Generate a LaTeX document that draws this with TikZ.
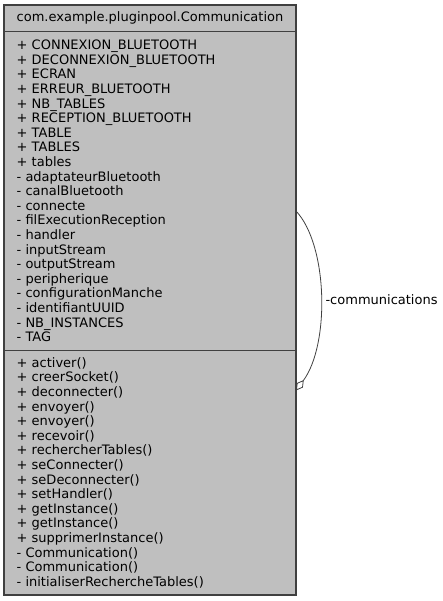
\documentclass[tikz,border=0pt]{standalone}
\usepackage{fontspec}
\setmainfont{DejaVu Sans}
\usetikzlibrary{arrows.meta,positioning}

\begin{document}
\begin{tikzpicture}[x=1pt,y=-1pt,
    classpart/.style={draw=umlborder,fill=umlfill,line width=1.2pt,outer sep=0pt,
      minimum width=292pt,text width=267pt,inner xsep=12.5pt,inner ysep=0pt,
      font=\fontsize{13}{14.6}\selectfont},
    aggreg/.style={draw=umlborder,line width=0.8pt,-{Diamond[open,length=13pt,width=7.5pt]}}]
  \definecolor{umlfill}{HTML}{BFBFBF}
  \definecolor{umlborder}{HTML}{404040}
  \useasboundingbox (0,0) rectangle (443,601);
  \node (title) [classpart,align=center,minimum height=26.5pt,anchor=north west] at (4,5)
    {com.example.pluginpool.Communication};
  \node (attrs) [classpart,align=left,minimum height=319pt,below=0pt of title]
    {+ CONNEXION\_BLUETOOTH\\+ DECONNEXION\_BLUETOOTH\\+ ECRAN\\+ ERREUR\_BLUETOOTH\\
     + NB\_TABLES\\+ RECEPTION\_BLUETOOTH\\+ TABLE\\+ TABLES\\+ tables\\
     - adaptateurBluetooth\\- canalBluetooth\\- connecte\\- filExecutionReception\\
     - handler\\- inputStream\\- outputStream\\- peripherique\\- configurationManche\\
     - identifiantUUID\\- NB\_INSTANCES\\- TAG};
  \node (methods) [classpart,align=left,minimum height=244.5pt,below=0pt of attrs]
    {+ activer()\\+ creerSocket()\\+ deconnecter()\\+ envoyer()\\+ envoyer()\\
     + recevoir()\\+ rechercherTables()\\+ seConnecter()\\+ seDeconnecter()\\
     + setHandler()\\+ getInstance()\\+ getInstance()\\+ supprimerInstance()\\
     - Communication()\\- Communication()\\- initialiserRechercheTables()};
  \coordinate (loopstart) at ([yshift=-179.5pt]attrs.north east);
  \coordinate (loopend) at ([yshift=-40pt]methods.north east);
  \draw[aggreg] (loopstart) .. controls ([xshift=32pt,yshift=-34pt]loopstart)
    and ([xshift=34pt,yshift=46pt]loopend) .. (loopend);
  \node (rolename) [anchor=west,font=\fontsize{13}{14.6}\selectfont] at (322,300) {-communications};
\end{tikzpicture}
\end{document}
